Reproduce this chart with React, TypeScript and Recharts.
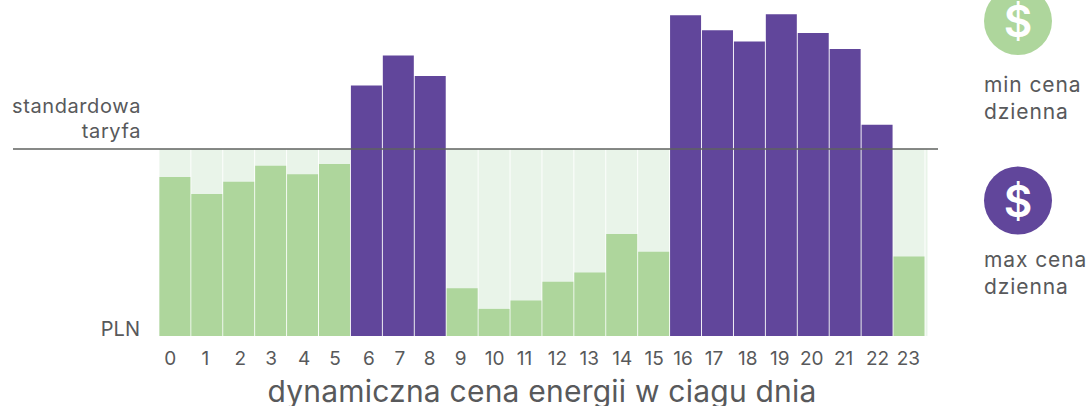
import React from 'react';
import { Bar, BarChart, Cell, ReferenceLine, XAxis, YAxis } from 'recharts';

const HOURS = ['0', '1', '2', '3', '4', '5', '6', '7', '8', '9', '10', '11', '12', '13', '14', '15', '16', '17', '18', '19', '20', '21', '22', '23'];
// price relative to the standard tariff (no scale printed on the chart)
const PRICES = [0.85, 0.76, 0.825, 0.91, 0.865, 0.92, 1.34, 1.5, 1.39, 0.255, 0.145, 0.19, 0.29, 0.34, 0.545, 0.45, 1.715, 1.635, 1.575, 1.72, 1.62, 1.535, 1.13, 0.425];
const TARIFF = 1;

const GREEN = '#aed69c';
const PURPLE = '#61469b';
const PALE = '#e9f4e9';
const TEXT = '#58595b';
const FONT = 'Inter, sans-serif';

const data = HOURS.map((hour, i) => ({ hour, price: PRICES[i], tariff: TARIFF }));

// hand placed labels in the original drift a little from the bar centres
const TICK_NUDGE = [-5, -2, 1, 0, 1, 0, 2, 1, -1, -2, 0, -2, -1, -1, 0, 0, -3, -4, -2, -2, -2, -2, 0, -1];

const HourTick = ({ x, y, payload, index }: any) => (
  <text x={x + TICK_NUDGE[index]} y={y + 21} textAnchor="middle" fontSize={19} fontFamily={FONT} fill={TEXT}>
    {payload.value}
  </text>
);

const PaleBar = ({ x, y, width, height, index }: any) => (
  <g>
    <rect x={x} y={y} width={width} height={height} fill={PALE} />
    {index === HOURS.length - 1 && <rect x={x + width + 1} y={y} width={2} height={height} fill={PALE} />}
  </g>
);

const TariffLine = ({ y1 }: any) => <line x1={13} x2={938} y1={y1} y2={y1} stroke="#5f625f" strokeWidth={1.5} />;

const label = (x: number, y: number, text: string, size = 20, anchor = 'start', spacing = 0) => (
  <text x={x} y={y} fontSize={size} fontFamily={FONT} fill={TEXT} textAnchor={anchor as any} letterSpacing={spacing}>
    {text}
  </text>
);

const Badge = ({ y, fill }: { y: number; fill: string }) => (
  <g>
    <circle cx={1018} cy={y} r={34} fill={fill} />
    <text x={1018} y={y + 16} textAnchor="middle" fontSize={44} fontWeight={600} fontFamily={FONT} fill="#fff">
      $
    </text>
  </g>
);

const App = () => {
  return (
    <div style={{ position: 'absolute', left: 0, top: 0 }}>
      <BarChart
        width={1091}
        height={406}
        data={data}
        margin={{ top: 0, right: 165.6, left: 159.4, bottom: 0 }}
        barSize={31}
        barGap={-31}
      >
        <XAxis dataKey="hour" axisLine={false} tickLine={false} interval={0} tick={<HourTick />} height={70} />
        <YAxis hide domain={[0, 336 / 187]} />
        <Bar dataKey="tariff" isAnimationActive={false} shape={<PaleBar />} />
        <Bar dataKey="price" isAnimationActive={false}>
          {PRICES.map((price, i) => (
            <Cell key={HOURS[i]} fill={price > TARIFF ? PURPLE : GREEN} />
          ))}
        </Bar>
        <ReferenceLine y={TARIFF} shape={<TariffLine />} />
        {label(141, 113, 'standardowa', 20, 'end', 0.6)}
        {label(141, 138, 'taryfa', 20, 'end', 0.6)}
        {label(140, 336, 'PLN', 20, 'end')}
        {label(542, 402, 'dynamiczna cena energii w ciagu dnia', 30, 'middle', 0.22)}
        <Badge y={21} fill={GREEN} />
        {label(984, 92, 'min cena', 21, 'start', 0.9)}
        {label(984, 119, 'dzienna', 21, 'start', 0.9)}
        <Badge y={200.5} fill={PURPLE} />
        {label(984, 267, 'max cena', 21, 'start', 0.9)}
        {label(984, 294, 'dzienna', 21, 'start', 0.9)}
      </BarChart>
    </div>
  );
};

export default App;
